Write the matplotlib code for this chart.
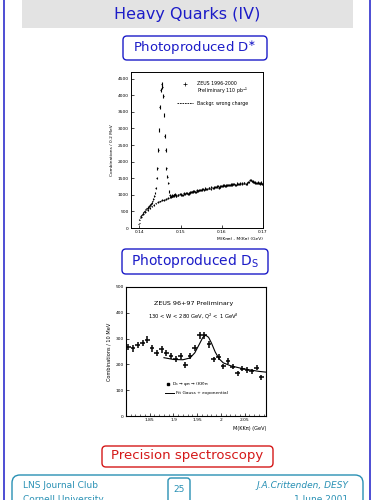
import numpy as np
import matplotlib
matplotlib.use("Agg")
import matplotlib.pyplot as plt
from matplotlib.patches import FancyBboxPatch, Rectangle

# --- D* plot: M(K pi pi) - M(K pi) ---
rs_start, rs_step = 0.1398, 0.0002
rs_counts = [120, 250, 320, 370, 400, 430, 470, 500, 520, 560,
             590, 610, 640, 660, 690, 720, 760, 800, 870, 950,
             1050, 1200, 1500, 1800, 2350, 2950, 3650, 4150, 4330, 4250,
             3970, 3400, 2770, 2350, 1800, 1550, 1350, 1100, 1000, 960,
             940, 980, 950, 990, 1010, 980]
tail_start, tail_step = 0.1493, 0.0005
tail_counts = [990, 1020, 1000, 1040, 1060, 1030, 1070, 1090, 1110, 1080,
               1120, 1140, 1160, 1150, 1180, 1200, 1170, 1210, 1230, 1250,
               1220, 1260, 1280, 1270, 1300, 1290, 1310, 1330, 1300, 1340,
               1320, 1350, 1360, 1330, 1390, 1450, 1420, 1380, 1350, 1370,
               1340, 1330]
bg_start, bg_step = 0.1400, 0.0005
bg_counts = [150, 330, 420, 480, 540, 600, 650, 700, 740, 780,
             800, 830, 850, 880, 900, 930, 950, 980, 960, 1000,
             1010, 990, 1030, 1050, 1040, 1080, 1100, 1090, 1130, 1150,
             1140, 1170, 1190, 1180, 1210, 1230, 1220, 1240, 1260, 1250,
             1270, 1290, 1280, 1300, 1290, 1310, 1320, 1300, 1330, 1340,
             1320, 1350, 1340, 1380, 1440, 1400, 1370, 1360, 1350, 1370,
             1340]
dstar_xticks = [0.14, 0.15, 0.16, 0.17]
dstar_yticks = [0, 500, 1000, 1500, 2000, 2500, 3000, 3500, 4000, 4500]

# --- Ds plot: M(KK pi) ---
ds_start, ds_step = 1.805, 0.01
ds_counts = [268, 262, 275, 283, 296, 262, 245, 258, 245, 232,
             220, 232, 197, 233, 264, 313, 313, 278, 219, 229,
             193, 214, 191, 165, 184, 178, 174, 187, 150]
fit_x = [1.880, 1.900, 1.920, 1.935, 1.945, 1.955, 1.962, 1.968, 1.974,
         1.980, 1.988, 1.996, 2.005, 2.020, 2.040, 2.060, 2.080, 2.095]
fit_y = [226, 219, 218, 225, 245, 280, 305, 313, 305,
         283, 248, 222, 206, 195, 186, 179, 173, 170]
ds_xticks = [1.85, 1.9, 1.95, 2.0, 2.05]
ds_xticklabels = ["1.85", "1.9", "1.95", "2", "2.05"]
ds_yticks = [0, 100, 200, 300, 400, 500]

BLUE = "#1c1cc8"
RED = "#d41818"
TEAL = "#2890b4"

fig = plt.figure(figsize=(3.75, 5.0), dpi=100)

# page decoration in pixel coordinates
page = fig.add_axes([0, 0, 1, 1])
page.set_xlim(0, 375)
page.set_ylim(500, 0)
page.axis("off")


def rounded_box(x0, y0, x1, y1, color, lw=1.0, pad=4):
    page.add_patch(FancyBboxPatch((x0, y0), x1 - x0, y1 - y0,
                                  boxstyle=f"round,pad=0,rounding_size={pad}",
                                  fc="white", ec=color, lw=lw))


page.add_patch(FancyBboxPatch((4, -20), 366, 560, boxstyle="round,pad=0,rounding_size=10",
                              fc="white", ec=BLUE, lw=1.1))
page.add_patch(Rectangle((22, 0), 331, 28, fc="#e3e3e3", ec="none"))
page.text(187.5, 14, "Heavy Quarks (IV)", color=BLUE, fontsize=11.5,
          ha="center", va="center")

rounded_box(123, 36, 267, 60, BLUE)
page.text(195, 48, "Photoproduced D$^{\\ast}$", color=BLUE, fontsize=9.5,
          ha="center", va="center")

rounded_box(122, 249, 268, 274, BLUE)
page.text(195, 261, "Photoproduced D$_{\\mathrm{S}}$", color=BLUE, fontsize=10,
          ha="center", va="center")

rounded_box(102, 446, 273, 467, RED)
page.text(187.5, 456, "Precision spectroscopy", color=RED, fontsize=9.5,
          ha="center", va="center")

rounded_box(12, 475, 363, 540, TEAL, pad=8)
page.text(23, 485, "LNS Journal Club", color=TEAL, fontsize=6.5, va="center")
page.text(23, 499, "Cornell University", color=TEAL, fontsize=6.5, va="center")
page.text(348, 485, "J.A.Crittenden, DESY", color=TEAL, fontsize=6.5,
          va="center", ha="right", style="italic")
page.text(348, 499, "1 June 2001", color=TEAL, fontsize=6.5, va="center", ha="right")
rounded_box(168, 478, 190, 506, TEAL, pad=3)
page.text(179, 490, "25", color=TEAL, fontsize=6.5, ha="center", va="center")

tick_kw = dict(direction="in", labelsize=3.2, width=0.5, length=2.5, pad=1.5)

# D* spectrum
ax1 = fig.add_axes([131 / 375, 1 - 228 / 500, 132 / 375, 156 / 500])
rs_x = rs_start + rs_step * np.arange(len(rs_counts))
tail_x = tail_start + tail_step * np.arange(len(tail_counts))
bg_x = bg_start + bg_step * np.arange(len(bg_counts))
rs = np.array(rs_counts, float)
tail = np.array(tail_counts, float)
bg = np.array(bg_counts, float)
ax1.errorbar(rs_x, rs, yerr=np.sqrt(rs), xerr=rs_step / 2, fmt="none",
             ecolor="black", elinewidth=0.8)
ax1.errorbar(tail_x, tail, yerr=np.sqrt(tail), xerr=tail_step / 3, fmt="none",
             ecolor="black", elinewidth=0.8)
ax1.errorbar(bg_x, bg, yerr=np.sqrt(bg), xerr=bg_step / 3, fmt="none",
             ecolor="black", elinewidth=0.8)
ax1.set_xlim(0.138, 0.170)
ax1.set_ylim(0, 4700)
ax1.set_xticks(dstar_xticks)
ax1.set_xticklabels(["0.14", "0.15", "0.16", "0.17"])
ax1.set_yticks(dstar_yticks)
ax1.tick_params(**tick_kw)
for s in ax1.spines.values():
    s.set_linewidth(0.7)
ax1.set_ylabel("Combinations / 0.2 MeV", fontsize=3.2, labelpad=3)
ax1.set_xlabel("M(K\u03c0\u03c0) - M(K\u03c0) (GeV)", fontsize=3.2, labelpad=2)
ax1.xaxis.set_label_coords(1.0, -0.06)
ax1.xaxis.label.set_ha("right")
ax1.plot([0.41], [0.925], marker="+", ms=2.5, mew=0.5, color="black",
         transform=ax1.transAxes)
ax1.text(0.50, 0.925, "ZEUS 1996-2000", fontsize=3.4, va="center", transform=ax1.transAxes)
ax1.text(0.50, 0.88, "Preliminary 110 pb$^{-1}$", fontsize=3.4, va="center",
         transform=ax1.transAxes)
ax1.plot([0.345, 0.47], [0.80, 0.80], ls=(0, (2, 1)), lw=0.6, color="black",
         transform=ax1.transAxes)
ax1.text(0.50, 0.80, "Backgr. wrong charge", fontsize=3.4, va="center",
         transform=ax1.transAxes)

# Ds spectrum
ax2 = fig.add_axes([126 / 375, 1 - 416 / 500, 140 / 375, 129 / 500])
ds_x = ds_start + ds_step * np.arange(len(ds_counts))
ds = np.array(ds_counts, float)
ax2.errorbar(ds_x, ds, yerr=np.sqrt(ds) * 0.75, xerr=ds_step / 2, fmt="none",
             ecolor="black", elinewidth=1.1)
ax2.plot(fit_x, fit_y, color="black", lw=0.8)
ax2.set_xlim(1.80, 2.095)
ax2.set_ylim(0, 500)
ax2.set_xticks(ds_xticks)
ax2.set_xticklabels(ds_xticklabels)
ax2.set_xticks(np.arange(1.81, 2.095, 0.01), minor=True)
ax2.set_yticks(ds_yticks)
ax2.tick_params(**tick_kw)
ax2.tick_params(which="minor", direction="in", length=1.5, width=0.4)
for s in ax2.spines.values():
    s.set_linewidth(0.8)
ax2.set_ylabel("Combinations / 10 MeV", fontsize=3.6, labelpad=3)
ax2.set_xlabel("M(KK\u03c0) (GeV)", fontsize=3.6)
ax2.xaxis.set_label_coords(1.0, -0.08)
ax2.xaxis.label.set_ha("right")
ax2.text(0.48, 0.87, "ZEUS 96+97 Preliminary", fontsize=4.6, ha="center", va="center",
         transform=ax2.transAxes)
ax2.text(0.48, 0.77, "130 < W < 280 GeV, Q$^2$ < 1 GeV$^2$", fontsize=3.8,
         ha="center", va="center", transform=ax2.transAxes)
ax2.plot([0.30], [0.25], marker="s", ms=1.6, color="black", transform=ax2.transAxes)
ax2.text(0.33, 0.25, "D$_s$ \u2192 \u03c6\u03c0 \u2192 (KK)\u03c0", fontsize=3.2,
         va="center", transform=ax2.transAxes)
ax2.plot([0.28, 0.34], [0.18, 0.18], lw=0.7, color="black", transform=ax2.transAxes)
ax2.text(0.36, 0.18, "Fit Gauss + exponential", fontsize=3.2, va="center",
         transform=ax2.transAxes)

fig.savefig("out.png", dpi=100)
